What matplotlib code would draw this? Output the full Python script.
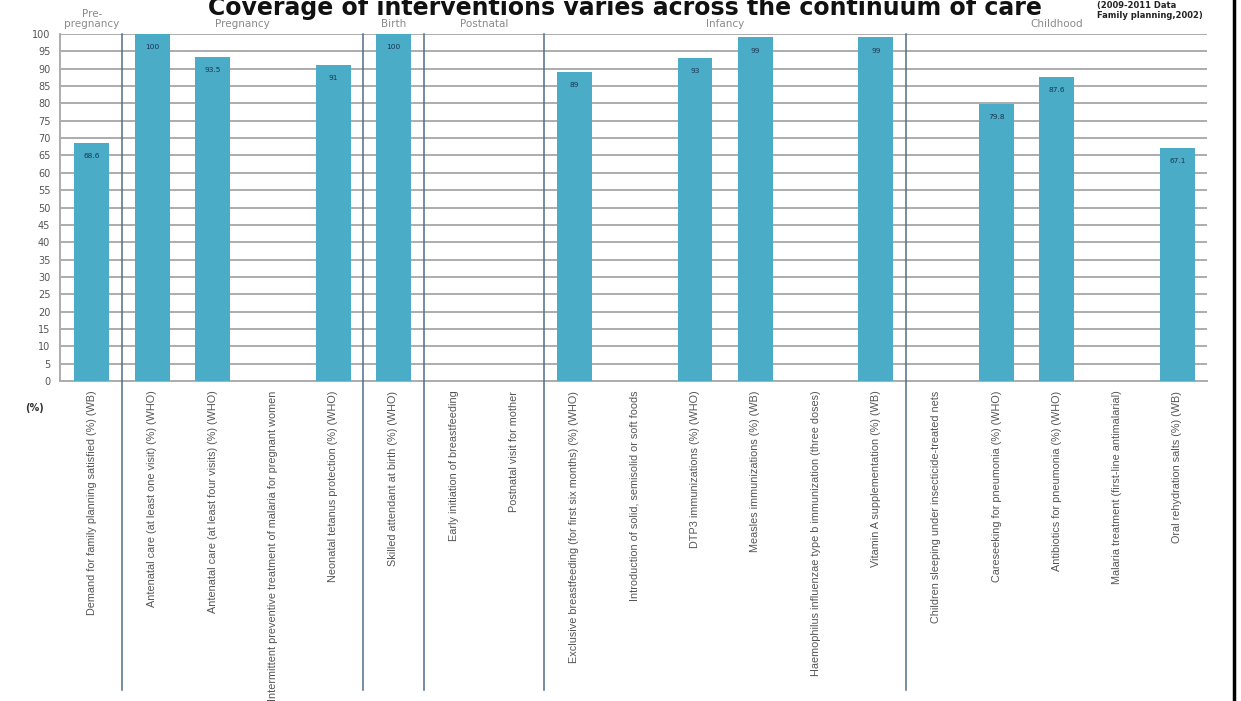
import numpy as np
import matplotlib
matplotlib.use("Agg")
import matplotlib.pyplot as plt
from matplotlib.lines import Line2D

# ---------------- data ----------------
categories = [
    "Demand for family planning satisfied (%) (WB)",
    "Antenatal care (at least one visit) (%) (WHO)",
    "Antenatal care (at least four visits) (%) (WHO)",
    "Intermittent preventive treatment of malaria for pregnant women",
    "Neonatal tetanus protection (%) (WHO)",
    "Skilled attendant at birth (%) (WHO)",
    "Early initiation of breastfeeding",
    "Postnatal visit for mother",
    "Exclusive breastfeeding (for first six months) (%) (WHO)",
    "Introduction of solid, semisolid or soft foods",
    "DTP3 immunizations (%) (WHO)",
    "Measles immunizations (%) (WB)",
    "Haemophilus influenzae type b immunization (three doses)",
    "Vitamin A supplementation (%) (WB)",
    "Children sleeping under insecticide-treated nets",
    "Careseeking for pneumonia (%) (WHO)",
    "Antibiotics for pneumonia (%) (WHO)",
    "Malaria treatment (first-line antimalarial)",
    "Oral rehydration salts (%) (WB)",
]
values = [68.6, 100, 93.5, None, 91, 100, None, None, 89, None,
          93, 99, None, 99, None, 79.8, 87.6, None, 67.1]
value_labels = ["68.6", "100", "93.5", "", "91", "100", "", "", "89", "",
                "93", "99", "", "99", "", "79.8", "87.6", "", "67.1"]
group_names = ["Pre-\npregnancy", "Pregnancy", "Birth", "Postnatal", "Infancy", "Childhood"]
group_sizes = [1, 4, 1, 2, 6, 5]
yticks = list(range(0, 101, 5))
title = "Coverage of interventions varies across the continuum of care"
note = "(2009-2011 Data\nFamily planning,2002)"

# ---------------- style ----------------
BAR = "#4aacc6"
GRID = "#acacac"
SEP = "#4f6d8c"
TXT = "#555555"

W, H = 1241, 701
fig = plt.figure(figsize=(W / 100, H / 100), dpi=100)
fig.patch.set_facecolor("white")

ax_left, ax_right, ax_top, ax_bot = 60, 1207, 34, 381
ax = fig.add_axes([ax_left / W, 1 - ax_bot / H, (ax_right - ax_left) / W, (ax_bot - ax_top) / H])

x = np.arange(len(categories))
vals = np.array([np.nan if v is None else v for v in values], dtype=float)
ax.bar(x, np.nan_to_num(vals), width=0.58, color=BAR, zorder=3)

ax.set_xlim(-0.53, len(categories) - 0.51)
ax.set_ylim(0, 100)
ax.set_yticks(yticks)
ax.yaxis.grid(True, color=GRID, linewidth=1.4, zorder=0)
ax.set_axisbelow(True)
ax.tick_params(axis="y", length=0, pad=7, labelsize=7, labelcolor=TXT)
ax.tick_params(axis="x", length=0, pad=7)
ax.set_xticks(x)
ax.set_xticklabels(categories, rotation=90, fontsize=7.8, color=TXT,
                   family=["Liberation Sans", "DejaVu Sans"], va="top", ha="center")
for s in ["top", "right"]:
    ax.spines[s].set_visible(False)
for s in ["left", "bottom"]:
    ax.spines[s].set_color(GRID)
    ax.spines[s].set_linewidth(1.4)

# value labels inside bars
for xi, v, lab in zip(x, vals, value_labels):
    if not np.isnan(v) and lab:
        ax.text(xi, v - 3.8, lab, ha="center", va="center", fontsize=5.3, color="#1c3552")

# group separators and labels
bounds = np.cumsum([0] + group_sizes)
for b in bounds[1:-1]:
    ax.add_line(Line2D([b - 0.5, b - 0.5], [1.0, -0.89], transform=ax.get_xaxis_transform(),
                       color=SEP, linewidth=1.1, clip_on=False, zorder=4))
for name, start, size in zip(group_names, bounds[:-1], group_sizes):
    cx = start + (size - 1) / 2
    ax.text(cx, 1.015, name, transform=ax.get_xaxis_transform(), ha="center", va="bottom",
            fontsize=7.5, color="#8a8a8a", linespacing=1.0)

# "(%)" label
fig.text(35 / W, 1 - 408 / H, "(%)", fontsize=7, fontweight="bold", color="#333333",
         ha="center", va="center")

# title (its top is clipped by the image edge, as in the reference)
fig.text(625 / W, 1 - 15 / H, title, fontsize=17, fontweight="bold", color="#111111",
         ha="center", va="baseline")
fig.text(1097 / W, 1 - 1 / H, note, fontsize=6, fontweight="bold", color="#222222",
         ha="left", va="top", linespacing=1.1)

# right frame line
fig.add_artist(Line2D([1234 / W, 1234 / W], [0, 1], transform=fig.transFigure,
                      color="black", linewidth=2.5))

fig.savefig("out.png", dpi=100)
